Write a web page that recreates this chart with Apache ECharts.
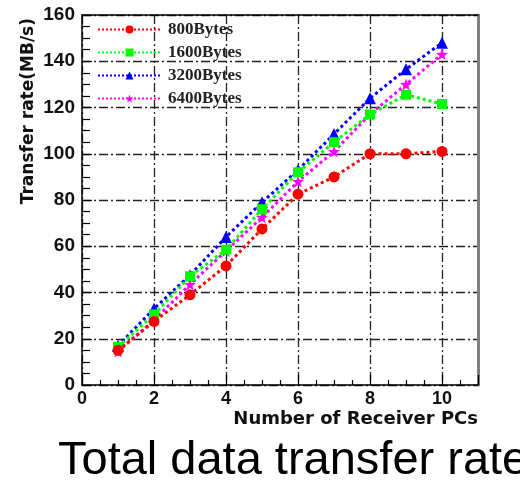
<!DOCTYPE html>
<html>
<head>
<meta charset="utf-8">
<script src="https://cdn.jsdelivr.net/npm/echarts@6/dist/echarts.min.js"></script>
<style>html,body{margin:0;padding:0;background:#fff;}#c{width:520px;height:481px;}</style>
</head>
<body>
<div id="c"></div>
<script>
const receivers = [1, 2, 3, 4, 5, 6, 7, 8, 9, 10];
const seriesNames = ['800Bytes', '1600Bytes', '3200Bytes', '6400Bytes'];
const rate800 = [15, 27.5, 39, 51.5, 67.5, 82.5, 90, 100, 100, 101];
const rate1600 = [16.5, 30.5, 47, 58.5, 76, 92, 105, 117, 125.5, 121.5];
const rate3200 = [17, 33, 47.5, 64, 79, 93, 108.5, 124, 136.5, 148];
const rate6400 = [14.5, 28, 43.5, 58, 72.5, 88, 101, 117, 130, 143];
const xTitle = 'Number of Receiver PCs';
const yTitle = 'Transfer rate(MB/s)';
const caption = 'Total data transfer rate';

const star = 'path://M100 0 L123.5 67.6 L195.1 69.1 L138 112.4 L158.8 180.9 L100 140 L41.2 180.9 L62 112.4 L4.9 69.1 L76.5 67.6 Z';
const colors = ['#ff0000', '#00ff00', '#0000ff', '#ff00ff'];
const symbols = ['circle', 'rect', 'triangle', star];
const sizes = [11, 10, 12, 12];
const values = [rate800, rate1600, rate3200, rate6400];

function gridLine() {
  return { show: true, lineStyle: { color: '#222', width: 1.3, type: [9, 3, 2, 3] } };
}
const chart = echarts.init(document.getElementById('c'), null, { renderer: 'canvas' });
chart.setOption({
  backgroundColor: '#fff',
  animation: false,
  grid: { left: 82, right: 42, top: 15, bottom: 96, show: false },
  legend: {
    orient: 'vertical', left: 92, top: 16, itemWidth: 63, itemHeight: 10, itemGap: 6,
    data: seriesNames,
    textStyle: { fontFamily: 'Liberation Serif', fontWeight: 'bold', fontSize: 17, color: '#222', padding: [0, 0, 0, 2] }
  },
  xAxis: [{
    type: 'value', min: 0, max: 11, interval: 2, position: 'bottom',
    axisLine: { show: true, onZero: false, lineStyle: { color: '#000', width: 1.5 } },
    axisTick: { show: true, inside: true, length: 10, lineStyle: { color: '#000', width: 1.2 } },
    minorTick: { show: true, splitNumber: 4, length: 5, lineStyle: { color: '#000', width: 1.2 } },
    axisLabel: { showMaxLabel: false, margin: 5, fontFamily: 'Liberation Sans', fontWeight: 'bold', fontSize: 18, color: '#111' },
    splitLine: gridLine()
  }, {
    type: 'value', min: 0, max: 11, interval: 2, position: 'top',
    axisLine: { show: true, onZero: false, lineStyle: { color: '#000', width: 1.5 } },
    axisTick: { show: false }, axisLabel: { show: false }, splitLine: { show: false }
  }],
  yAxis: [{
    type: 'value', min: 0, max: 160, interval: 20, position: 'left',
    axisLine: { show: true, onZero: false, lineStyle: { color: '#000', width: 1.5 } },
    axisTick: { show: true, inside: true, length: 10, lineStyle: { color: '#000', width: 1.2 } },
    minorTick: { show: true, splitNumber: 4, length: 8, lineStyle: { color: '#000', width: 1.2 } },
    axisLabel: { margin: 7, fontFamily: 'Liberation Sans', fontWeight: 'bold', fontSize: 19, color: '#111' },
    splitLine: gridLine()
  }, {
    type: 'value', min: 0, max: 160, interval: 20, position: 'right',
    axisLine: { show: true, onZero: false, lineStyle: { color: '#808080', width: 3 } },
    axisTick: { show: false }, axisLabel: { show: false }, splitLine: { show: false }
  }],
  graphic: [
    { type: 'text', left: 20, top: 18, rotation: Math.PI / 2,
      style: { text: yTitle, fontFamily: 'DejaVu Sans', fontWeight: 'bold', fontSize: 17, fill: '#111' } },
    { type: 'text', right: 42, top: 410,
      style: { text: xTitle, fontFamily: 'DejaVu Sans', fontWeight: 'bold', fontSize: 18, fill: '#111' } },
    { type: 'text', left: 58, top: 438,
      style: { text: caption, fontFamily: 'Liberation Sans', fontSize: 47, fill: '#000' } }
  ],
  series: seriesNames.map((name, i) => ({
    name, type: 'line', xAxisIndex: 0, yAxisIndex: 0,
    data: receivers.map((x, j) => [x, values[i][j]]),
    symbol: symbols[i], symbolSize: sizes[i], showAllSymbol: true,
    itemStyle: { color: colors[i] },
    lineStyle: { color: colors[i], width: 3, type: 'dotted' },
    z: 3 + (3 - i)
  }))
});
</script>
</body>
</html>
